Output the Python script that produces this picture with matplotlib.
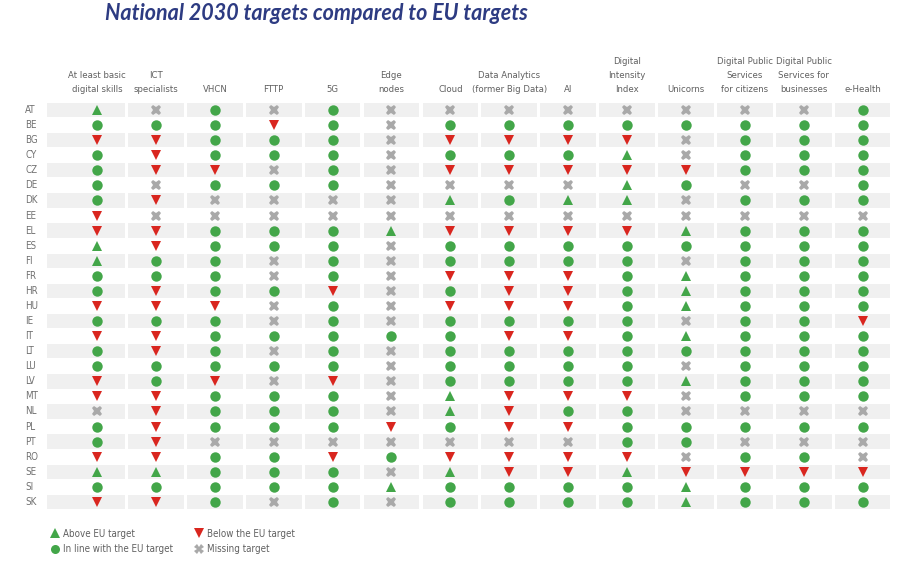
import matplotlib
matplotlib.use("Agg")
import matplotlib.pyplot as plt
from matplotlib.patches import Rectangle
from matplotlib.lines import Line2D

# column headers
indicators = ["At least basic\ndigital skills", "ICT\nspecialists", "VHCN", "FTTP", "5G",
              "Edge\nnodes", "Cloud", "Data Analytics\n(former Big Data)", "AI",
              "Digital\nIntensity\nIndex", "Unicorns", "Digital Public\nServices\nfor citizens",
              "Digital Public\nServices for\nbusinesses", "e-Health"]

countries = ["AT", "BE", "BG", "CY", "CZ", "DE", "DK", "EE", "EL", "ES", "FI", "FR", "HR", "HU",
             "IE", "IT", "LT", "LU", "LV", "MT", "NL", "PL", "PT", "RO", "SE", "SI", "SK"]

# A = above, I = in line, B = below, M = missing (one letter per indicator)
status = ["AMIMIMMMMMMMMI",
          "IIIBIMIIIIIIII",
          "BBIIIMBBBBMIII",
          "IBIIIMIIIAMIII",
          "IBBMIMBBBBBIII",
          "IMIIIMMMMAIMMI",
          "IBMMMMAIAAMIII",
          "BMMMMMMMMMMMMM",
          "BBIIIABBBBAIII",
          "ABIIIMIIIIIIII",
          "AIIMIMIIIIMIII",
          "IIIMIMBBBIAIII",
          "IBIIBMIBBIAIII",
          "BBBMIMBBBIAIII",
          "IIIMIMIIIIMIIB",
          "BBIIIIIBBIAIII",
          "IBIMIMIIIIIIII",
          "IIIIIMIIIIMIII",
          "BIBMBMIIIIAIII",
          "BBIIIMABBBMIII",
          "MBIIIMABIIMMMM",
          "IBIIIBIBBIIIII",
          "IBMMMMMMMIIMMM",
          "BBIIBIBBBBMIIM",
          "AAIIIMABBABBBB",
          "IIIIIAIIIIAIII",
          "BBIMIMIIIIAIII"]

legend_labels = {"A": "Above EU target", "I": "In line with the EU target",
                 "B": "Below the EU target", "M": "Missing target"}

green = "#43a649"
red = "#d9261f"
grey = "#a9a9a9"
styles = {"A": dict(marker="^", color=green, ms=7.5),
          "I": dict(marker="o", color=green, ms=7.5),
          "B": dict(marker="v", color=red, ms=7.5),
          "M": dict(marker="X", color=grey, ms=7.5)}

fig = plt.figure(figsize=(9, 5.69), dpi=100)
ax = fig.add_axes([0.0522, 0.1046, 0.939, 0.7153])
n_rows = len(countries)
n_cols = len(indicators)
ax.set_xlim(-0.85, n_cols - 0.5)
ax.set_ylim(n_rows - 0.5, -0.5)
ax.axis("off")

# grey bands on alternate rows, split into cells
gap = 0.027
for r in range(0, n_rows, 2):
    for c in range(n_cols):
        x0 = -0.85 if c == 0 else c - 0.5 + gap
        x1 = c + 0.5 - gap
        ax.add_patch(Rectangle((x0, r - 0.475), x1 - x0, 0.95,
                               facecolor="#f0f0f0", edgecolor="none", zorder=0))

for code, st in styles.items():
    xs, ys = [], []
    for r, row in enumerate(status):
        for c, v in enumerate(row):
            if v == code:
                xs.append(c)
                ys.append(r)
    ax.plot(xs, ys, linestyle="none", marker=st["marker"], color=st["color"],
            markersize=st["ms"], markeredgewidth=0, zorder=3)

for r, name in enumerate(countries):
    ax.text(-1.22, r, name, ha="left", va="center", fontsize=7,
            color="#707070", family="DejaVu Sans", fontstretch="condensed")

for c, lab in enumerate(indicators):
    ax.text(c, -1.05, lab, ha="center", va="bottom", fontsize=6.8,
            color="#606060", family="DejaVu Sans", fontstretch="condensed",
            linespacing=1.75, multialignment="center")

fig.text(105 / 900, 1 - 14 / 569, "National 2030 targets compared to EU targets",
         fontsize=15.5, fontweight="bold", fontstyle="italic", color="#2d3b82",
         family=["Lato", "DejaVu Sans"], va="center", ha="left")

handles = []
for code in ["A", "I", "B", "M"]:
    st = styles[code]
    handles.append(Line2D([], [], linestyle="none", marker=st["marker"], color=st["color"],
                          markersize=6.5, markeredgewidth=0))
leg = fig.legend(handles, [legend_labels[k] for k in ["A", "I", "B", "M"]], ncol=2,
                 loc="upper left", bbox_to_anchor=(40 / 900, 1 - 520 / 569), frameon=False,
                 handletextpad=0.3, columnspacing=2.0, labelspacing=0.55, handlelength=1.2,
                 prop={"family": "DejaVu Sans", "stretch": "condensed", "size": 7},
                 labelcolor="#606060")

fig.savefig("out.png", dpi=100)
